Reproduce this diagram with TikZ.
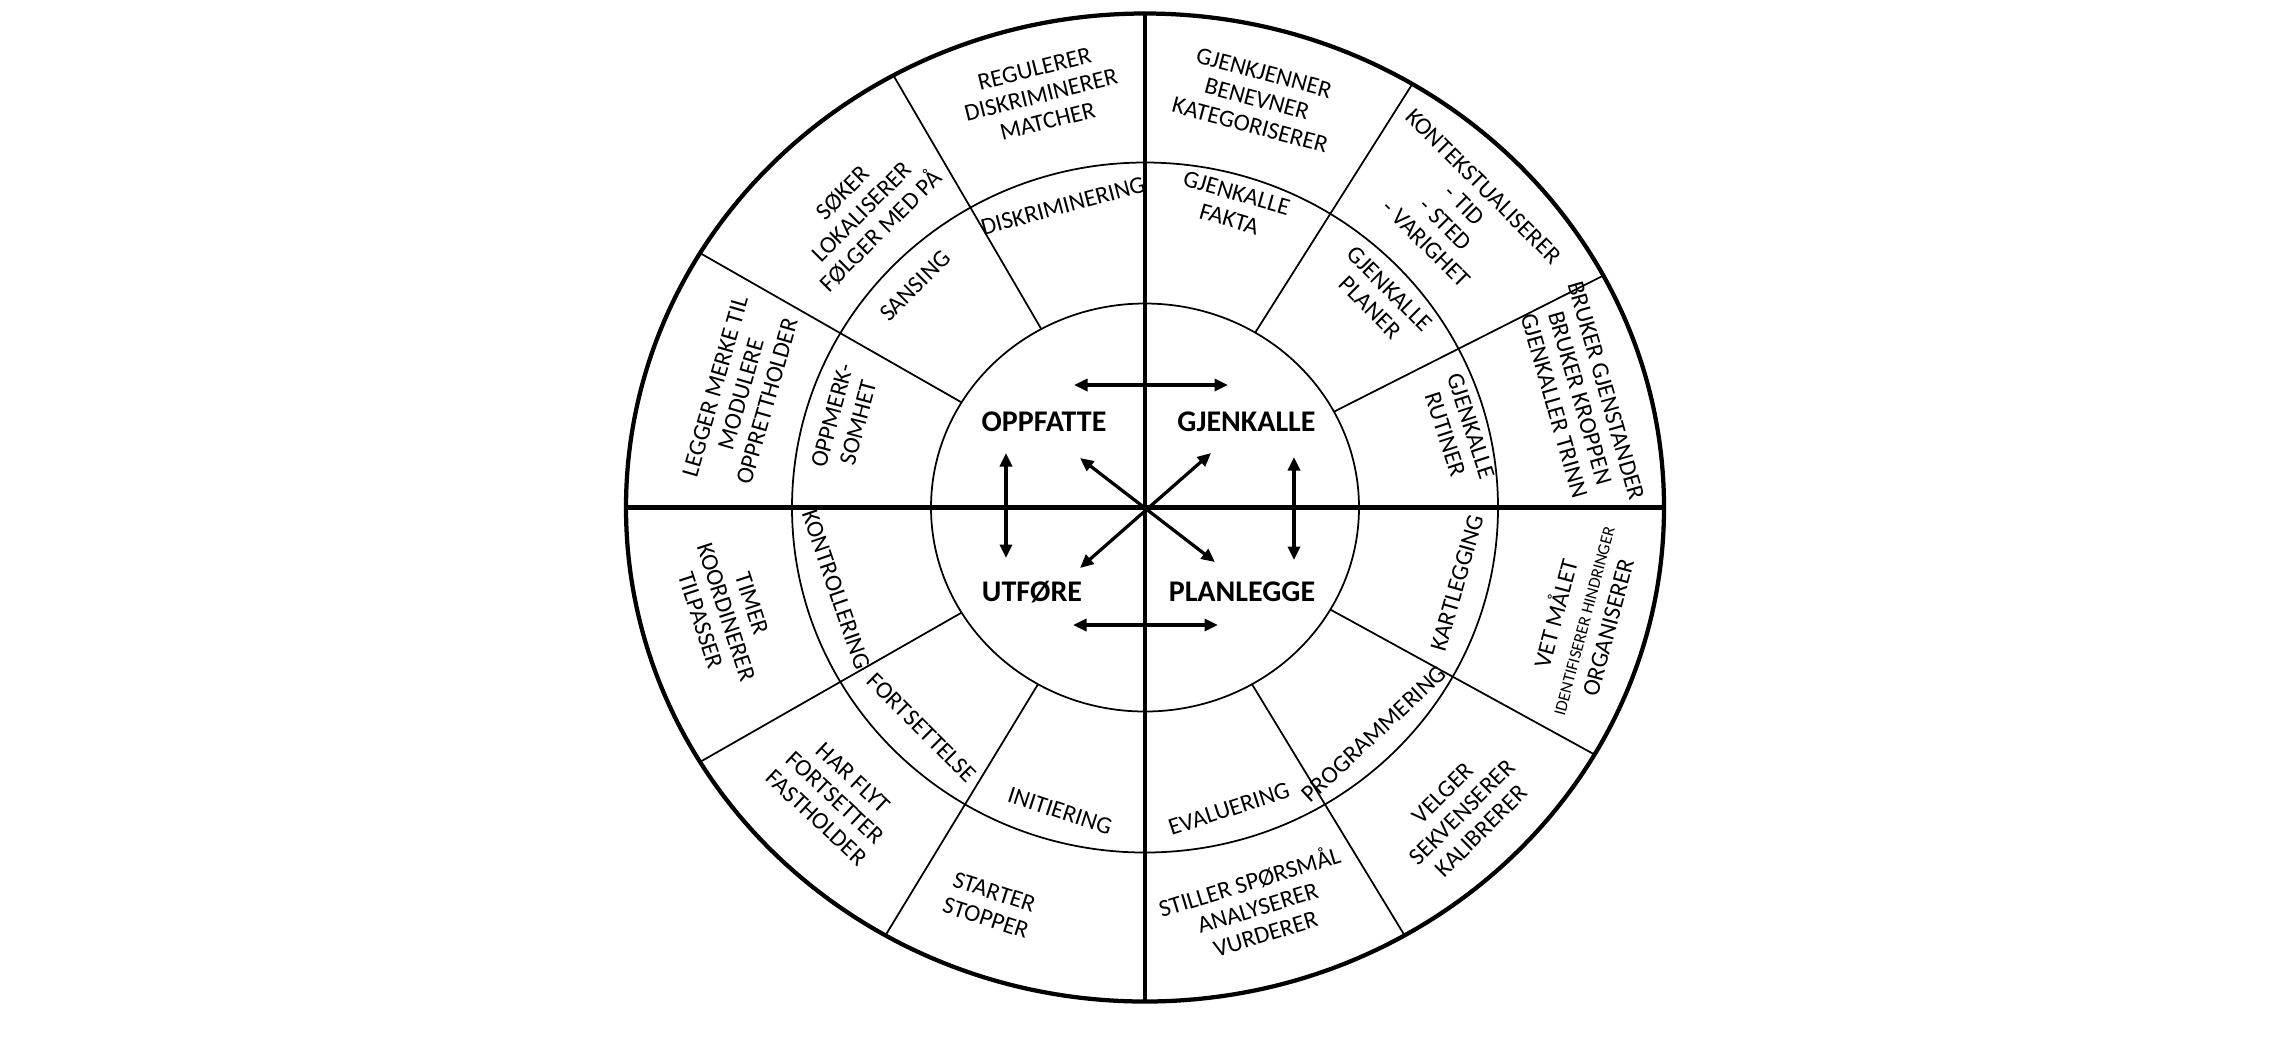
\documentclass[tikz,border=0pt]{standalone}
\usepackage{fontspec}
\setmainfont{Carlito}
\usetikzlibrary{arrows.meta}

\begin{document}
\begin{tikzpicture}[x=0.4pt,y=0.4pt,yscale=-1,
  lbl/.style={align=center,inner sep=0pt,font=\fontsize{9.7}{10.8}\selectfont},
  core/.style={inner sep=0pt,font=\fontsize{12}{13}\selectfont\bfseries},
  dbl/.style={{Triangle[length=5.4pt,width=4.8pt]}-{Triangle[length=5.4pt,width=4.8pt]},line width=1.3pt},
  divider/.style={line width=0.7pt},
  heavy/.style={line width=1.7pt}]
\useasboundingbox (0,0) rectangle (2286,1056);

%Shape: Ellipse
\draw [heavy] (1145,507.5) ellipse [x radius=519, y radius=494];
%Shape: Ellipse
\draw [divider] (1145,507.5) ellipse [x radius=353, y radius=345];
%Shape: Ellipse
\draw [divider] (1145,507.5) ellipse [x radius=214, y radius=204];

%Straight Lines
\draw [heavy] (1145,14) -- (1145,1001);
\draw [heavy] (626,507.5) -- (1664,507.5);

%Straight Lines
\draw [divider] (1041.3,329.1) -- (893.4,75.4);
\draw [divider] (961.6,402.4) -- (700.1,253.1);
\draw [divider] (1255.2,332.6) -- (1412.3,84.0);
\draw [divider] (1333.9,411.7) -- (1603.2,275.6);
\draw [divider] (961.6,612.6) -- (700.1,761.9);
\draw [divider] (1038,684.2) -- (885.5,935.3);
\draw [divider] (1252,684.2) -- (1404.5,935.3);
\draw [divider] (1330.3,609.5) -- (1594.5,754.5);

% Text Node
\node [core] (oppfatte) at (1044,422) {OPPFATTE};
\node [core] (gjenkalle) at (1246.5,422) {GJENKALLE};
\node [core] (utfore) at (1032,592) {UTFØRE};
\node [core] (planlegge) at (1242,592) {PLANLEGGE};

%Straight Lines
\coordinate (topL) at (1074,385);
\coordinate (topR) at (1228,385);
\coordinate (botL) at (1073,625);
\coordinate (botR) at (1218,625);
\coordinate (leftT) at (1006,453);
\coordinate (leftB) at (1006,558);
\coordinate (rightT) at (1294,457);
\coordinate (rightB) at (1294,560);
\coordinate (nw) at (1080,458);
\coordinate (se) at (1215,562);
\coordinate (ne) at (1211,453);
\coordinate (sw) at (1080,568);
\draw [dbl] (topL) -- (topR);
\draw [dbl] (botL) -- (botR);
\draw [dbl] (leftT) -- (leftB);
\draw [dbl] (rightT) -- (rightB);
\draw [dbl] (nw) -- (se);
\draw [dbl] (ne) -- (sw);

% Text Node
\node [lbl, rotate=14] (regulerer) at (1041,95) {REGULERER\\DISKRIMINERER\\MATCHER};
\node [lbl, rotate=45] (soker) at (862,212) {SØKER\\LOKALISERER\\FØLGER MED PÅ};
\node [lbl, rotate=74] (legger) at (741,394) {LEGGER MERKE TIL\\MODULERE\\OPPRETTHOLDER};
\node [lbl, rotate=15] (diskriminering) at (1063,206) {DISKRIMINERING};
\node [lbl, rotate=45] (sansing) at (915,286) {SANSING};
\node [lbl, rotate=75] (oppmerksomhet) at (845,419) {OPPMERK-\\SOMHET};

% Text Node
\node [lbl, rotate=-15] (gjenkjenner) at (1257,99) {GJENKJENNER\\BENEVNER\\KATEGORISERER};
\node [lbl, rotate=-45] (kontekst) at (1455,215) {KONTEKSTUALISERER\\- TID\\- STED\\- VARIGHET};
\node [lbl, rotate=-74] (bruker) at (1580,398) {BRUKER GJENSTANDER\\BRUKER KROPPEN\\GJENKALLER TRINN};
\node [lbl, rotate=-16] (fakta) at (1233,206) {GJENKALLE\\FAKTA};
\node [lbl, rotate=-45] (planer) at (1380,298) {GJENKALLE\\PLANER};
\node [lbl, rotate=-72] (rutiner) at (1458,430) {GJENKALLE\\RUTINER};

% Text Node
\node [lbl, rotate=-72] (timer) at (726,612) {TIMER\\KOORDINERER\\TILPASSER};
\node [lbl, rotate=-43] (harflyt) at (835,798) {HAR FLYT\\FORTSETTER\\FASTHOLDER};
\node [lbl, rotate=-18] (starter) at (990,905) {STARTER\\STOPPER};
\node [lbl, rotate=-71] (kontrollering) at (836,590) {KONTROLLERING};
\node [lbl, rotate=-45] (fortsettelse) at (922,728) {FORTSETTELSE};
\node [lbl, rotate=-18] (initiering) at (1060,811) {INITIERING};

% Text Node
\node [lbl, rotate=18] (evaluering) at (1229,809) {EVALUERING};
\node [lbl, rotate=43] (programmering) at (1374,734) {PROGRAMMERING};
\node [lbl, rotate=74] (kartlegging) at (1457,583) {KARTLEGGING};
\node [lbl, rotate=17] (stiller) at (1257,906) {STILLER SPØRSMÅL\\ANALYSERER\\VURDERER};
\node [lbl, rotate=45] (velger) at (1462,812) {VELGER\\SEKVENSERER\\KALIBRERER};
\node [lbl, rotate=75] (vetmalet) at (1580,620) {VET MÅLET\\{\fontsize{6.8}{7.6}\selectfont IDENTIFISERER HINDRINGER}\\ORGANISERER};
\end{tikzpicture}
\end{document}
